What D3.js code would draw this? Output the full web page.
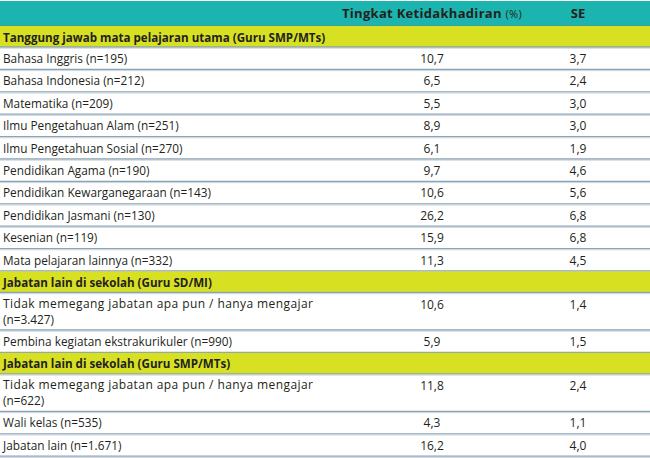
<!DOCTYPE html>
<html><head><meta charset="utf-8">
<script src="https://cdn.jsdelivr.net/npm/d3@7"></script>
<style>html,body{margin:0;padding:0;background:#fff;}svg{display:block;font-family:"Open Sans",Lato,sans-serif;}</style>
</head><body>
<svg id="c" width="650" height="458"></svg>
<script>
const headers = ["Tingkat Ketidakhadiran", "(%)", "SE"];
const sections = [
  "Tanggung jawab mata pelajaran utama (Guru SMP/MTs)",
  "Jabatan lain di sekolah (Guru SD/MI)",
  "Jabatan lain di sekolah (Guru SMP/MTs)"
];
const labels = [
  ["Bahasa Inggris", "(n=195)"], ["Bahasa Indonesia", "(n=212)"], ["Matematika", "(n=209)"],
  ["Ilmu Pengetahuan Alam", "(n=251)"], ["Ilmu Pengetahuan Sosial", "(n=270)"],
  ["Pendidikan Agama", "(n=190)"], ["Pendidikan Kewarganegaraan", "(n=143)"],
  ["Pendidikan Jasmani", "(n=130)"], ["Kesenian", "(n=119)"], ["Mata pelajaran lainnya", "(n=332)"],
  ["Tidak memegang jabatan apa pun / hanya mengajar", "(n=3.427)"],
  ["Pembina kegiatan ekstrakurikuler", "(n=990)"],
  ["Tidak memegang jabatan apa pun / hanya mengajar", "(n=622)"],
  ["Wali kelas", "(n=535)"], ["Jabatan lain", "(n=1.671)"]
];
const rate = ["10,7","6,5","5,5","8,9","6,1","9,7","10,6","26,2","15,9","11,3","10,6","5,9","11,8","4,3","16,2"];
const se   = ["3,7","2,4","3,0","3,0","1,9","4,6","5,6","6,8","6,8","4,5","1,4","1,5","2,4","1,1","4,0"];
const sectionOf = [0,0,0,0,0,0,0,0,0,0,1,1,2,2,2];

const W = 650;
const teal = "#1cb4af", yellow = "#d8e022", lineC = "#8da3b3", lineL = "#c9d6de", ink = "#231f20";
const svg = d3.select("#c");

const rows = [{type:"header"}];
let cur = -1;
labels.forEach((l,i)=>{
  if (sectionOf[i] !== cur) { cur = sectionOf[i]; rows.push({type:"section", text: sections[cur]}); }
  rows.push({type:"row", label:l[0], n:l[1], rate:rate[i], se:se[i], wrap: l[0].length > 40});
});
const hOf = r => r.type==="header" ? 25 : r.type==="section" ? 21.5 : (r.wrap ? 37.5 : 22.4);
let acc = 1;
rows.forEach(r=>{ r.y0 = acc; r.h = hOf(r); acc += r.h; });

const x = d3.scaleLinear().domain([0,1]).range([0,W]);
const colX = {label: 3, rate: 432, se: 578};

const g = svg.selectAll("g.r").data(rows).join("g").attr("class","r")
  .attr("transform", d=>`translate(0,${d.y0})`);

g.filter(d=>d.type!=="row").append("rect")
  .attr("x", x(0)).attr("width", x(1)-x(0)).attr("height", d=>d.h)
  .attr("fill", d=>d.type==="header"?teal:yellow);

const hd = g.filter(d=>d.type==="header");
const ht = hd.append("text").attr("x", colX.rate).attr("y", 17).attr("text-anchor","middle")
  .attr("font-size", 13).attr("font-weight","bold").attr("letter-spacing", 0.3).attr("fill",ink);
ht.append("tspan").text(headers[0]+" ");
ht.append("tspan").attr("font-size",11).attr("font-weight","normal").text(headers[1]);
hd.append("text").attr("x", colX.se).attr("y", 17).attr("text-anchor","middle")
  .attr("font-size", 13).attr("font-weight","bold").attr("fill",ink).text(headers[2]);
hd.append("line").attr("x1",0).attr("x2",W).attr("y1",d=>d.h).attr("y2",d=>d.h)
  .attr("stroke","#5f8a8a").attr("stroke-width",1);

g.filter(d=>d.type==="section").append("text").attr("x", colX.label).attr("y", 15.5)
  .attr("font-size", 11.6).attr("font-weight","bold").attr("fill",ink).text(d=>d.text);

const rw = g.filter(d=>d.type==="row");
rw.each(function(d){
  const s = d3.select(this);
  if (d.wrap) {
    s.append("text").attr("x", colX.label).attr("y", 15).attr("font-size", 12).attr("fill",ink)
      .attr("textLength", 310).attr("lengthAdjust","spacing").text(d.label);
    s.append("text").attr("x", colX.label).attr("y", 30.5).attr("font-size", 11.8).attr("fill",ink).text(d.n);
  } else {
    const t = s.append("text").attr("x", colX.label).attr("y", 15.5).attr("font-size", 11.8).attr("fill",ink);
    t.append("tspan").text(d.label+" ");
    t.append("tspan").attr("font-size", 11.8).text(d.n);
  }
  s.append("text").attr("x", colX.rate).attr("y", 15.5).attr("text-anchor","middle")
    .attr("font-size", 12).attr("fill",ink).text(d.rate);
  s.append("text").attr("x", colX.se).attr("y", 15.5).attr("text-anchor","middle")
    .attr("font-size", 12).attr("fill",ink).text(d.se);
});

g.filter(d=>d.type!=="header").append("line").attr("x1",0).attr("x2",W)
  .attr("y1",d=>d.h-0.5).attr("y2",d=>d.h-0.5).attr("stroke",lineC).attr("stroke-width",1.3);
g.filter(d=>d.type!=="header").append("line").attr("x1",0).attr("x2",W)
  .attr("y1",d=>d.h+0.7).attr("y2",d=>d.h+0.7).attr("stroke",lineL).attr("stroke-width",1);
</script>
</body></html>
